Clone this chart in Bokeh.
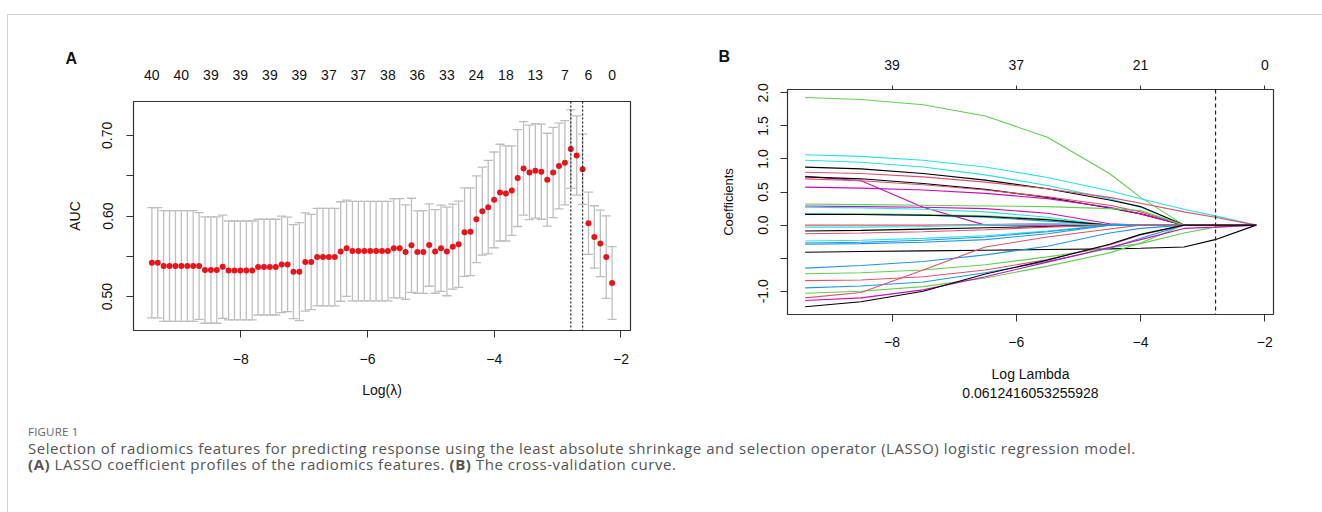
import numpy as np
from bokeh.plotting import figure
from bokeh.models import Range1d, LinearAxis, FixedTicker, Span, Div
from bokeh.layouts import row, column
from bokeh.embed import file_html
from bokeh.resources import INLINE

# ---------------- Panel A data (cross-validation curve) ----------------
log_lambda = [-9.402, -9.309, -9.216, -9.123, -9.030, -8.937, -8.843, -8.750, -8.657, -8.564,
              -8.471, -8.378, -8.285, -8.192, -8.099, -8.006, -7.912, -7.819, -7.726, -7.633,
              -7.540, -7.447, -7.354, -7.261, -7.168, -7.075, -6.981, -6.888, -6.795, -6.702,
              -6.609, -6.516, -6.423, -6.330, -6.237, -6.144, -6.050, -5.957, -5.864, -5.771,
              -5.678, -5.585, -5.492, -5.399, -5.306, -5.213, -5.119, -5.026, -4.933, -4.840,
              -4.747, -4.654, -4.561, -4.468, -4.375, -4.282, -4.188, -4.095, -4.002, -3.909,
              -3.816, -3.723, -3.630, -3.537, -3.444, -3.351, -3.257, -3.164, -3.071, -2.978,
              -2.885, -2.792, -2.699, -2.606, -2.513, -2.420, -2.326, -2.233, -2.140]
auc_mean = [0.542, 0.542, 0.538, 0.538, 0.538, 0.538, 0.538, 0.538, 0.538, 0.533,
            0.533, 0.533, 0.537, 0.5325, 0.5325, 0.5325, 0.5325, 0.5325, 0.5366, 0.5366,
            0.5366, 0.5366, 0.540, 0.540, 0.531, 0.531, 0.543, 0.543, 0.549, 0.549,
            0.549, 0.549, 0.556, 0.560, 0.5565, 0.5565, 0.5565, 0.5565, 0.5565, 0.5565,
            0.5565, 0.560, 0.560, 0.5553, 0.5636, 0.5553, 0.5553, 0.564, 0.556, 0.560,
            0.556, 0.562, 0.565, 0.580, 0.5805, 0.596, 0.606, 0.611, 0.620, 0.629,
            0.628, 0.6315, 0.647, 0.659, 0.654, 0.656, 0.655, 0.645, 0.654, 0.662,
            0.666, 0.683, 0.675, 0.658, 0.591, 0.574, 0.566, 0.549, 0.517]
auc_se = [0.0683, 0.0683, 0.0687, 0.0687, 0.0687, 0.0687, 0.0687, 0.0687, 0.0663, 0.0660,
          0.0660, 0.0660, 0.0640, 0.0613, 0.0613, 0.0613, 0.0613, 0.0613, 0.0594, 0.0594,
          0.0594, 0.0594, 0.0598, 0.0586, 0.0582, 0.0607, 0.0609, 0.0590, 0.0605, 0.0605,
          0.0605, 0.0605, 0.0617, 0.0596, 0.0617, 0.0617, 0.0617, 0.0617, 0.0617, 0.0617,
          0.0617, 0.0615, 0.0615, 0.0586, 0.0584, 0.0511, 0.0513, 0.0511, 0.0518, 0.0536,
          0.0549, 0.0528, 0.0534, 0.0549, 0.0545, 0.0538, 0.0545, 0.0580, 0.0594, 0.0600,
          0.0590, 0.0555, 0.0600, 0.0580, 0.0586, 0.0586, 0.0590, 0.0576, 0.0559, 0.0532,
          0.0522, 0.0487, 0.0491, 0.0435, 0.0387, 0.0387, 0.0412, 0.0511, 0.0451]
nz_index = [0, 5, 10, 15, 20, 25, 30, 35, 40, 45, 50, 55, 60, 65, 70, 74, 78]
nz_labels = ["40", "40", "39", "39", "39", "39", "37", "37", "38", "36", "33", "24", "18", "13", "7", "6", "0"]
lambda_min_log = -2.792
lambda_1se_log = -2.606
auc_ticks = [0.50, 0.55, 0.60, 0.65, 0.70]
auc_tick_labels = ["0.50", "", "0.60", "", "0.70"]

# ---------------- Panel B data (coefficient profiles) ----------------
path_log_lambda = [-9.40, -8.5, -7.5, -6.5, -5.5, -4.5, -4.0, -3.3, -2.8, -2.14]
f01 = [1.93, 1.90, 1.82, 1.65, 1.33, 0.78, 0.42, 0.00, 0.00, 0.00]
f02 = [1.065, 1.04, 0.98, 0.88, 0.72, 0.52, 0.40, 0.24, 0.14, 0.00]
f03 = [0.98, 0.95, 0.88, 0.76, 0.60, 0.40, 0.27, 0.00, 0.00, 0.00]
f04 = [0.877, 0.85, 0.78, 0.68, 0.55, 0.38, 0.28, 0.00, 0.00, 0.00]
f05 = [0.80, 0.78, 0.73, 0.65, 0.55, 0.42, 0.33, 0.20, 0.12, 0.00]
f06 = [0.737, 0.67, 0.27, 0.00, 0.00, 0.00, 0.00, 0.00, 0.00, 0.00]
f07 = [0.73, 0.70, 0.63, 0.54, 0.42, 0.26, 0.17, 0.00, 0.00, 0.00]
f08 = [0.70, 0.67, 0.61, 0.53, 0.43, 0.30, 0.20, 0.00, 0.00, 0.00]
f09 = [0.575, 0.56, 0.53, 0.48, 0.40, 0.27, 0.17, 0.00, 0.00, 0.00]
f10 = [0.32, 0.31, 0.30, 0.29, 0.28, 0.25, 0.22, 0.00, 0.00, 0.00]
f11 = [0.29, 0.28, 0.27, 0.25, 0.18, 0.02, 0.00, 0.00, 0.00, 0.00]
f12 = [0.27, 0.26, 0.24, 0.20, 0.12, 0.00, 0.00, 0.00, 0.00, 0.00]
f13 = [0.17, 0.17, 0.16, 0.14, 0.09, 0.00, 0.00, 0.00, 0.00, 0.00]
f14 = [0.17, 0.16, 0.15, 0.12, 0.06, 0.00, 0.00, 0.00, 0.00, 0.00]
f15 = [0.16, 0.16, 0.15, 0.13, 0.08, 0.00, 0.00, 0.00, 0.00, 0.00]
f16 = [0.00, 0.00, 0.00, 0.01, 0.02, 0.00, 0.00, 0.00, 0.00, 0.00]
f17 = [-0.03, -0.03, -0.02, 0.00, 0.02, 0.00, 0.00, 0.00, 0.00, 0.00]
f18 = [-0.09, -0.08, -0.06, -0.04, -0.02, 0.00, 0.00, 0.00, 0.00, 0.00]
f19 = [-0.13, -0.12, -0.10, -0.07, -0.03, 0.00, 0.00, 0.00, 0.00, 0.00]
f20 = [-0.24, -0.23, -0.20, -0.16, -0.09, 0.00, 0.00, 0.00, 0.00, 0.00]
f21 = [-0.27, -0.26, -0.23, -0.18, -0.10, 0.00, 0.00, 0.00, 0.00, 0.00]
f22 = [-0.29, -0.28, -0.26, -0.22, -0.13, 0.00, 0.00, 0.00, 0.00, 0.00]
f23 = [-0.41, -0.40, -0.39, -0.38, -0.37, -0.36, -0.35, -0.33, -0.22, 0.00]
f24 = [-0.65, -0.61, -0.55, -0.45, -0.32, -0.12, -0.05, 0.00, 0.00, 0.00]
f25 = [-0.735, -0.72, -0.68, -0.60, -0.48, -0.34, -0.28, -0.12, -0.03, 0.00]
f26 = [-0.84, -0.83, -0.78, -0.68, -0.52, -0.30, -0.15, 0.00, 0.00, 0.00]
f27 = [-0.95, -0.92, -0.86, -0.72, -0.55, -0.35, -0.20, 0.00, 0.00, 0.00]
f28 = [-1.03, -1.00, -0.93, -0.80, -0.62, -0.42, -0.27, 0.00, 0.00, 0.00]
f29 = [-1.10, -1.02, -0.68, -0.33, -0.18, -0.06, 0.00, 0.00, 0.00, 0.00]
f30 = [-1.14, -1.10, -0.98, -0.78, -0.56, -0.34, -0.22, -0.05, -0.03, 0.00]
f31 = [-1.235, -1.16, -1.00, -0.74, -0.53, -0.29, -0.14, 0.00, 0.00, 0.00]
coef_paths = [f01, f02, f03, f04, f05, f06, f07, f08, f09, f10, f11, f12, f13, f14, f15, f16,
              f17, f18, f19, f20, f21, f22, f23, f24, f25, f26, f27, f28, f29, f30, f31]
top_ticks_b = [-8, -6, -4, -2]
top_labels_b = ["39", "37", "21", "0"]
coef_ticks = [-1.0, -0.5, 0.0, 0.5, 1.0, 1.5, 2.0]
coef_tick_labels = ["-1.0", "", "0.0", "0.5", "1.0", "1.5", "2.0"]
lambda_line_log = -2.793

# ---------------- styling ----------------
R_COLS = {"black": "#000000", "red": "#DF536B", "green": "#61D04F",
          "blue": "#2297E6", "cyan": "#28E2E5", "magenta": "#CD0BBC"}
path_colors = ["green", "cyan", "cyan", "black", "red", "magenta", "black", "red", "magenta",
               "green", "magenta", "cyan", "green", "blue", "black", "red", "cyan", "black",
               "red", "cyan", "blue", "blue", "black", "blue", "green", "red", "blue", "green",
               "red", "magenta", "black"]
FONT = "Liberation Sans"
FS = "14px"


def style_axis(ax):
    ax.axis_line_color = None
    ax.major_tick_line_color = "#333333"
    ax.major_tick_in = 0
    ax.major_tick_out = 7
    ax.minor_tick_line_color = None
    ax.major_label_text_font = FONT
    ax.major_label_text_font_size = FS
    ax.major_label_text_color = "#111111"
    ax.axis_label_text_font = FONT
    ax.axis_label_text_font_size = FS
    ax.axis_label_text_font_style = "normal"
    ax.axis_label_text_color = "#111111"


def style_title(p, offset, standoff):
    p.title.align = "left"
    p.title.offset = offset
    p.title.standoff = standoff
    p.title.text_font = FONT
    p.title.text_font_size = "16px"
    p.title.text_font_style = "bold"
    p.title.text_color = "#111111"


# ---------------- Panel A ----------------
pA = figure(frame_width=497, frame_height=229, output_backend="svg", toolbar_location=None,
            x_range=Range1d(-9.692, -1.850), y_range=Range1d(0.458, 0.742),
            min_border_left=125, min_border_right=62, min_border_top=86, min_border_bottom=80,
            x_axis_label="Log(\u03bb)", y_axis_label="AUC", title="A")
style_title(pA, -68, 0)
pA.grid.visible = False
pA.outline_line_color = "#333333"
pA.outline_line_width = 1.2
for ax in pA.xaxis + pA.yaxis:
    style_axis(ax)
pA.xaxis.ticker = FixedTicker(ticks=[-8, -6, -4, -2])
pA.xaxis.major_label_standoff = 16
pA.xaxis.axis_label_standoff = 15
pA.yaxis.ticker = FixedTicker(ticks=auc_ticks)
pA.yaxis.major_label_overrides = {t: l for t, l in zip(auc_ticks, auc_tick_labels)}
pA.yaxis.major_label_orientation = "vertical"
pA.yaxis.major_label_standoff = 14
pA.yaxis.axis_label_standoff = 17

top_pos = [log_lambda[i] for i in nz_index]
topA = LinearAxis(ticker=FixedTicker(ticks=top_pos),
                  major_label_overrides={p: l for p, l in zip(top_pos, nz_labels)})
style_axis(topA)
topA.major_tick_line_color = None
topA.major_tick_out = 0
topA.major_label_standoff = 22
pA.add_layout(topA, "above")

x = np.array(log_lambda)
m = np.array(auc_mean)
s = np.array(auc_se)
barw = 0.01 * (x.max() - x.min())
bar_col = "#BEBEBE"
pA.segment(x0=x, y0=m - s, x1=x, y1=m + s, line_color=bar_col, line_width=1.3)
pA.segment(x0=x - barw, y0=m + s, x1=x + barw, y1=m + s, line_color=bar_col, line_width=1.3)
pA.segment(x0=x - barw, y0=m - s, x1=x + barw, y1=m - s, line_color=bar_col, line_width=1.3)
pA.scatter(x, m, size=6, color="#E8141C", line_color=None)
for loc in (lambda_min_log, lambda_1se_log):
    pA.add_layout(Span(location=loc, dimension="height", line_color="#222222",
                       line_dash="2 2", line_width=1.2))

# ---------------- Panel B ----------------
pB = figure(frame_width=486, frame_height=225, output_backend="svg", toolbar_location=None,
            x_range=Range1d(-9.684, -1.860), y_range=Range1d(-1.352, 2.051),
            min_border_left=95, min_border_right=47, min_border_top=74, min_border_bottom=96,
            x_axis_label="Log Lambda\n0.0612416053255928", y_axis_label="Coefficients", title="B")
style_title(pB, -69, -16)
pB.grid.visible = False
pB.outline_line_color = "#333333"
pB.outline_line_width = 1.2
for ax in pB.xaxis + pB.yaxis:
    style_axis(ax)
pB.xaxis.ticker = FixedTicker(ticks=[-8, -6, -4, -2])
pB.xaxis.major_label_standoff = 15
pB.xaxis.axis_label_standoff = 16
pB.yaxis.ticker = FixedTicker(ticks=coef_ticks)
pB.yaxis.major_label_overrides = {t: l for t, l in zip(coef_ticks, coef_tick_labels)}
pB.yaxis.major_label_orientation = "vertical"
pB.yaxis.major_label_standoff = 12
pB.yaxis.axis_label_standoff = 20
pB.yaxis.axis_label_text_font_size = "13px"

topB = LinearAxis(ticker=FixedTicker(ticks=top_ticks_b),
                  major_label_overrides={t: l for t, l in zip(top_ticks_b, top_labels_b)})
style_axis(topB)
topB.major_tick_out = 4
topB.major_label_standoff = 16
pB.add_layout(topB, "above")

for vals, cname in zip(coef_paths, path_colors):
    pB.line(path_log_lambda, vals, line_color=R_COLS[cname], line_width=1.1)
pB.add_layout(Span(location=lambda_line_log, dimension="height", line_color="#222222",
                   line_dash="4 3", line_width=1.2))

caption = Div(width=1313, height=95, text=(
    "<div style=\"font-family:'Open Sans',sans-serif;color:#555;padding:10px 0 0 15px;\">"
    "<div style='font-size:11.5px;color:#666;letter-spacing:0.2px;line-height:14px;'>FIGURE 1</div>"
    "<div style='font-size:15px;line-height:16px;margin-top:1px;letter-spacing:0.55px;'>"
    "Selection of radiomics features for predicting response using the least absolute shrinkage "
    "and selection operator (LASSO) logistic regression model.<br>"
    "<b>(A)</b> LASSO coefficient profiles of the radiomics features. <b>(B)</b> The cross-validation curve."
    "</div></div>"))

layout = column(row(column(pA), column(pB)), caption,
                margin=(14, 0, 0, 7),
                styles={"border-top": "1px solid #d4d4d4", "border-left": "1px solid #d4d4d4"})
open("out.html", "w").write(file_html(layout, INLINE))
